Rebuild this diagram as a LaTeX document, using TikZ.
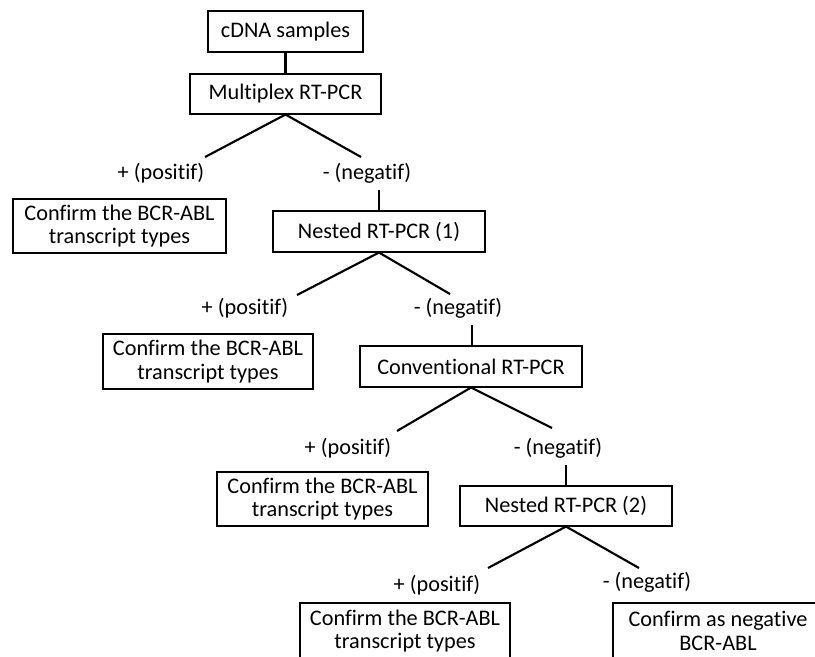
\documentclass[tikz,border=0pt]{standalone}
\usepackage{fontspec}
\setmainfont{Carlito}[Ligatures={NoCommon}]
\begin{document}
\begin{tikzpicture}[x=0.75pt,y=-0.75pt,
  box/.style={draw=black,line width=0.8pt,inner sep=0pt,align=center,
    font=\fontsize{16.7}{17.5}\selectfont},
  lbl/.style={inner sep=0pt,font=\fontsize{16.7}{17.5}\selectfont},
  conn/.style={line width=1.6pt}]
\useasboundingbox (0,0) rectangle (815,657);
\begin{scope}
\clip (0,0) rectangle (815,657);
% boxes
\node[box,minimum width={155*0.75pt},minimum height={41*0.75pt}] (cdna) at (285.5,31.5) {cDNA samples};
\node[box,minimum width={191*0.75pt},minimum height={40*0.75pt}] (multi) at (285.5,94) {Multiplex RT-PCR};
\node[box,minimum width={213*0.75pt},minimum height={54*0.75pt}] (conf1) at (119.5,226) {Confirm the BCR-ABL\\transcript types};
\node[box,minimum width={212*0.75pt},minimum height={41*0.75pt}] (nest1) at (379,231.5) {Nested RT-PCR (1)};
\node[box,minimum width={210*0.75pt},minimum height={55*0.75pt}] (conf2) at (208,361.5) {Confirm the BCR-ABL\\transcript types};
\node[box,minimum width={222*0.75pt},minimum height={41*0.75pt}] (conv) at (471,366.5) {Conventional RT-PCR};
\node[box,minimum width={211*0.75pt},minimum height={54*0.75pt}] (conf3) at (322.5,499) {Confirm the BCR-ABL\\transcript types};
\node[box,minimum width={212*0.75pt},minimum height={40*0.75pt}] (nest2) at (566,506) {Nested RT-PCR (2)};
\node[box,minimum width={210*0.75pt},minimum height={56*0.75pt}] (conf4) at (405,631) {Confirm the BCR-ABL\\transcript types};
\node[box,minimum width={210*0.75pt},minimum height={56*0.75pt}] (confneg) at (718,631) {Confirm as negative\\BCR-ABL};
% labels
\node[lbl] (pos1) at (161,173) {+ (positif)};
\node[lbl] (neg1) at (367,173) {- (negatif)};
\node[lbl] (pos2) at (245,308) {+ (positif)};
\node[lbl] (neg2) at (458,308) {- (negatif)};
\node[lbl] (pos3) at (348,448) {+ (positif)};
\node[lbl] (neg3) at (558,448) {- (negatif)};
\node[lbl] (pos4) at (437,585) {+ (positif)};
\node[lbl] (neg4) at (647,582) {- (negatif)};
% connector end points
\coordinate (m1l) at (205,157);
\coordinate (m1r) at (361,157);
\coordinate (v1) at (379,190);
\coordinate (n1l) at (297,295);
\coordinate (n1r) at (450,294);
\coordinate (v2) at (472,325);
\coordinate (c1l) at (397,431);
\coordinate (c1r) at (552,428);
\coordinate (v3) at (566,465);
\coordinate (n2l) at (488,568);
\coordinate (n2r) at (639,568);
% connectors
\draw[conn] (cdna.south) -- (multi.north);
\draw[conn] (m1l) -- (multi.south) -- (m1r);
\draw[conn] (v1) -- (nest1.north);
\draw[conn] (n1l) -- (nest1.south) -- (n1r);
\draw[conn] (v2) -- (v2 |- conv.north);
\draw[conn] (c1l) -- (conv.south) -- (c1r);
\draw[conn] (v3) -- (nest2.north);
\draw[conn] (n2l) -- (nest2.south) -- (n2r);
\end{scope}
\end{tikzpicture}
\end{document}
